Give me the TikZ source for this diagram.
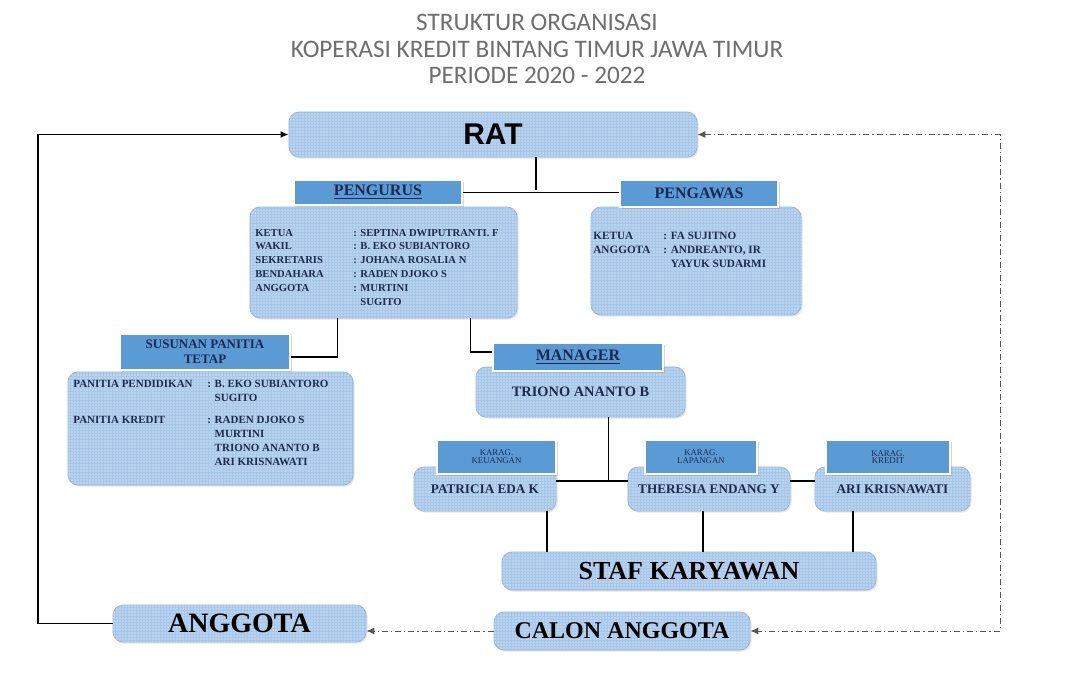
\documentclass[tikz,border=0pt]{standalone}
\usepackage{fontspec}
\setmainfont{Liberation Serif}
\newfontfamily\titlefont{Carlito}
\newfontfamily\ratfont{Liberation Sans}
\usetikzlibrary{arrows.meta, calc, shadows, patterns.meta}
\definecolor{koplight}{HTML}{A7C8EA}
\definecolor{kopmid}{HTML}{5B9BD5}
\definecolor{kopedge}{HTML}{8FB4DD}
\definecolor{kopnavy}{HTML}{1C2A4F}
\definecolor{kopgrey}{HTML}{6E6E6E}
\definecolor{kopline}{HTML}{555555}
\tikzset{
  >={Latex[length=4pt, width=3.5pt]},
  body/.style={rectangle, rounded corners=5pt, draw=kopedge, line width=0.4pt, fill=koplight,
               postaction={pattern={Dots[distance=1.5pt, radius=0.35pt]}, pattern color=white},
               drop shadow={opacity=0.2, shadow xshift=0.8pt, shadow yshift=-0.8pt},
               inner sep=0pt, text=kopnavy, font=\bfseries},
  hd/.style={rectangle, draw=white, line width=1pt, fill=kopmid,
             drop shadow={opacity=0.3, shadow xshift=1pt, shadow yshift=-1pt},
             inner sep=0pt, align=center, text=kopnavy, font=\bfseries},
  listtext/.style={inner sep=0pt, align=left, text=kopnavy, font=\fontsize{5.3}{6.9}\selectfont\bfseries},
  titletext/.style={align=center, text=kopgrey, font=\titlefont\fontsize{12.6}{13.25}\selectfont},
  link/.style={line width=0.75pt, draw=black},
  dashlink/.style={line width=0.5pt, draw=kopline, dash pattern=on 3pt off 1.5pt on 0.6pt off 1.5pt},
}
\newcommand{\hdsize}[1]{\fontsize{#1}{#1}\selectfont}

\begin{document}
\begin{tikzpicture}[x=0.5pt, y=-0.5pt]
    \path[use as bounding box, fill=white] (0,0) rectangle (1066,675);
    % title
    \node[titletext] (title) at (537,49) {STRUKTUR ORGANISASI\\KOPERASI KREDIT BINTANG TIMUR JAWA TIMUR\\PERIODE 2020 - 2022};

    % top
    \node[body, minimum width=204pt, minimum height=22.5pt, text=black,
          font=\ratfont\bfseries\hdsize{15}] (rat) at (493,134.5) {RAT};

    % pengurus and pengawas
    \node[body, minimum width=133.5pt, minimum height=55.5pt] (pengurus) at (383.5,262.5) {};
    \node[hd, minimum width=84pt, minimum height=12.5pt, font=\bfseries\hdsize{8}] (pengurushd) at (378,192.5) {\underline{PENGURUS}};
    \node[listtext, anchor=north west] (pengurustxt) at (255,226) {%
      \begin{tabular}{@{}p{49pt}@{}l@{}}
        KETUA & : SEPTINA DWIPUTRANTI. F\\
        WAKIL & : B. EKO SUBIANTORO\\
        SEKRETARIS & : JOHANA ROSALIA N\\
        BENDAHARA & : RADEN DJOKO S\\
        ANGGOTA & : MURTINI\\
                & \phantom{: }SUGITO
      \end{tabular}};
    \node[body, minimum width=105pt, minimum height=54pt] (pengawas) at (696,261) {};
    \node[hd, minimum width=79pt, minimum height=13.5pt, font=\bfseries\hdsize{8}] (pengawashd) at (699,193.5) {PENGAWAS};
    \node[listtext, anchor=north west, font=\fontsize{5.6}{7}\selectfont\bfseries] (pengawastxt) at (593,229) {%
      \begin{tabular}{@{}p{35pt}@{}l@{}}
        KETUA & : FA SUJITNO\\
        ANGGOTA & : ANDREANTO, IR\\
                & \phantom{: }YAYUK SUDARMI
      \end{tabular}};

    % panitia and manager
    \node[body, minimum width=142.5pt, minimum height=56.5pt] (panitia) at (210.5,428.5) {};
    \node[hd, minimum width=85pt, minimum height=18pt, font=\bfseries\fontsize{6.5}{7.5}\selectfont] (susunanhd) at (205,352) {SUSUNAN PANITIA\\TETAP};
    \node[listtext, anchor=north west, font=\fontsize{5.5}{7}\selectfont\bfseries] (panitiatxt) at (73,377) {%
      \begin{tabular}{@{}p{67pt}@{}l@{}}
        PANITIA PENDIDIKAN & : B. EKO SUBIANTORO\\
                           & \phantom{: }SUGITO\\[4pt]
        PANITIA KREDIT & : RADEN DJOKO S\\
                       & \phantom{: }MURTINI\\
                       & \phantom{: }TRIONO ANANTO B\\
                       & \phantom{: }ARI KRISNAWATI
      \end{tabular}};
    \node[body, minimum width=104.5pt, minimum height=25pt, font=\bfseries\hdsize{7.2}] (manager) at (580.5,392) {TRIONO ANANTO B};
    \node[hd, minimum width=85pt, minimum height=14pt, font=\bfseries\hdsize{8}] (managerhd) at (578,357) {\underline{MANAGER}};

    % kepala bagian
    \foreach \n/\t/\x/\w/\hx/\hw/\h in {patricia/PATRICIA EDA K/485/71/496.5/59.5/KEUANGAN,
                                       theresia/THERESIA ENDANG Y/709/81/701/56/LAPANGAN,
                                       ari/ARI KRISNAWATI/892.5/77.5/888/62/KREDIT}{
      \node[body, minimum width=\w pt, minimum height=22pt, font=\bfseries\hdsize{6.6}] (\n) at (\x,489) {\raisebox{-2pt}{\t}};
      \node[hd, minimum width=\hw pt, minimum height=17pt, font=\hdsize{4.4}] (\n hd) at (\hx,457) {KARAG.\\[-0.5pt]\h};
    }

    % bottom
    \node[body, minimum width=187pt, minimum height=19pt, font=\bfseries\hdsize{13}, text=black] (staf) at (689,571) {STAF KARYAWAN};
    \node[body, minimum width=126.5pt, minimum height=18.5pt, font=\bfseries\hdsize{14}, text=black] (anggota) at (239.5,623.5) {ANGGOTA};
    \node[body, minimum width=128pt, minimum height=19pt, font=\bfseries\hdsize{12}, text=black] (calon) at (622,631) {CALON ANGGOTA};

    % connectors
    \coordinate (ratjoin) at (536,190);
    \draw[link] (ratjoin |- rat.south) -- (ratjoin);
    \draw[link] (pengurushd.east) -- (pengurushd.east -| pengawashd.west);
    \draw[link] ($(pengurus.south)+(-46,0)$) |- ($(susunanhd.east)+(0,5)$);
    \draw[link] ($(pengurus.south)+(87,0)$) |- ($(managerhd.west)+(0,-5)$);
    \draw[link] ($(manager.south)+(28,0)$) -- ++(0,64);
    \draw[link] ($(patricia.east)+(0,-8)$) -- ($(theresia.west)+(0,-8)$);
    \draw[link] ($(theresia.east)+(0,-8)$) -- ($(ari.west)+(0,-8)$);
    \foreach \n/\x in {patricia/547, theresia/703, ari/853}
      \draw[link] (\n.south -| \x,0) -- (staf.north -| \x,0);

    % loops
    \coordinate (leftloop) at (38,0);
    \coordinate (rightloop) at (1000,0);
    \draw[link, ->] (anggota.west) -| (leftloop |- rat.west) -- (rat.west);
    \draw[dashlink, <->] (rat.east) -- (rat.east -| rightloop) -- (calon.east -| rightloop) -- (calon.east);
    \draw[dashlink, ->] (calon.west) -- (calon.west -| anggota.east);
\end{tikzpicture}
\end{document}
